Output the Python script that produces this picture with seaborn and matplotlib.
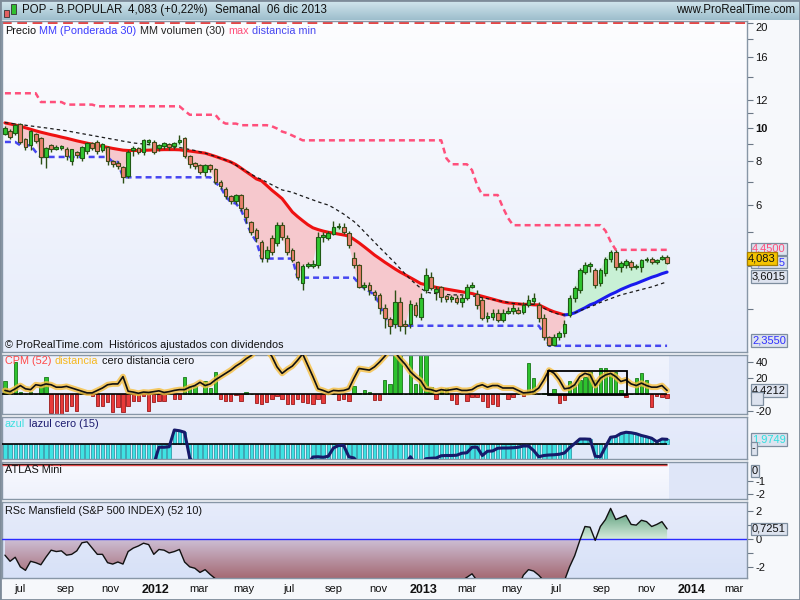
import numpy as np
import pandas as pd
import matplotlib
matplotlib.use('Agg')
import matplotlib.pyplot as plt
import seaborn as sns
from matplotlib.colors import LinearSegmentedColormap
from matplotlib.offsetbox import TextArea, HPacker, AnchoredOffsetbox
from matplotlib.patches import Rectangle
from matplotlib.path import Path
from matplotlib.ticker import NullLocator
from matplotlib.transforms import ScaledTranslation
import matplotlib.dates as mdates

# POP - B.POPULAR, velas semanales
apertura = [9.58, 9.77, 9.64, 10.23, 9.26, 8.9, 9.58, 9.33, 8.22, 8.9,
            8.67, 8.73, 8.67, 8.0, 8.5, 8.17, 8.55, 9.02, 9.08, 8.61,
            8.79, 8.0, 7.9, 7.7, 7.25, 8.61, 8.73, 8.5, 9.08, 9.08,
            8.73, 8.84, 8.96, 8.84, 9.08, 9.33, 8.28, 7.9, 7.8, 7.45,
            7.8, 7.6, 7.0, 6.65, 6.35, 6.15, 6.4, 5.83, 5.35, 5.07,
            4.69, 4.22, 4.81, 4.66, 5.24, 4.81, 4.45, 4.1, 3.58, 4.0,
            4.0, 4.02, 4.84, 4.81, 4.94, 5.17, 5.17, 4.97, 4.22, 4.02,
            3.48, 3.52, 3.36, 3.3, 3.03, 2.81, 2.73, 3.15, 2.73, 2.73,
            3.09, 2.85, 3.4, 3.71, 3.36, 3.48, 3.28, 3.21, 3.23, 3.15,
            3.23, 3.48, 3.33, 3.19, 2.83, 2.85, 2.93, 2.79, 2.93, 2.97,
            2.99, 2.95, 3.09, 3.17, 3.09, 2.83, 2.49, 2.37, 2.49, 2.56,
            2.89, 3.23, 3.4, 3.84, 4.0, 3.89, 3.56, 3.81, 4.19, 4.39,
            3.96, 4.02, 4.1, 3.96, 3.96, 4.16, 4.19, 4.1, 4.19, 4.24]
cierre = [9.97, 9.39, 10.17, 9.08, 8.79, 9.77, 9.14, 8.22, 8.73, 8.67,
          8.79, 8.84, 8.28, 8.67, 8.34, 8.79, 9.02, 8.73, 8.55, 8.96,
          8.0, 7.85, 7.75, 7.2, 8.5, 8.73, 8.5, 9.2, 9.2, 8.5,
          8.9, 9.02, 8.79, 9.02, 9.2, 8.28, 7.85, 7.75, 7.45, 7.8,
          7.6, 7.0, 6.78, 6.35, 6.15, 6.4, 5.87, 5.53, 5.0, 4.81,
          4.22, 4.45, 4.39, 5.24, 4.84, 4.39, 4.16, 3.71, 4.0, 4.06,
          4.06, 4.84, 4.9, 4.97, 5.17, 5.2, 5.0, 4.6, 4.02, 3.48,
          3.52, 3.4, 3.3, 3.03, 2.83, 2.69, 3.15, 2.69, 2.68, 3.11,
          2.89, 3.23, 3.76, 3.45, 3.43, 3.26, 3.21, 3.26, 3.15, 3.23,
          3.48, 3.52, 3.09, 2.83, 2.87, 2.93, 2.79, 2.93, 2.97, 3.03,
          2.93, 3.09, 3.19, 3.23, 2.83, 2.49, 2.36, 2.49, 2.56, 2.73,
          3.23, 3.45, 3.89, 4.02, 4.06, 3.52, 3.89, 4.19, 4.39, 3.96,
          4.08, 4.12, 3.96, 3.99, 4.16, 4.19, 4.1, 4.16, 4.24, 4.083]
alto = [10.1, 9.9, 10.3, 10.3, 9.35, 9.85, 9.65, 9.4, 8.8, 9.0,
        8.9, 8.9, 8.8, 8.7, 8.55, 8.85, 9.1, 9.1, 9.2, 9.05,
        8.85, 8.1, 8.0, 7.75, 8.6, 8.85, 8.8, 9.3, 9.3, 9.2,
        9.0, 9.1, 9.05, 9.1, 9.5, 9.4, 8.35, 7.95, 7.85, 7.85,
        7.85, 7.65, 7.05, 6.75, 6.4, 6.45, 6.45, 5.9, 5.4, 5.15,
        4.75, 4.55, 4.9, 5.35, 5.35, 4.9, 4.5, 4.12, 4.05, 4.1,
        4.15, 5.0, 5.0, 5.05, 5.4, 5.3, 5.3, 5.05, 4.4, 4.05,
        3.6, 3.6, 3.4, 3.35, 3.1, 2.85, 3.4, 3.25, 2.8, 3.2,
        3.15, 3.35, 3.95, 3.85, 3.5, 3.5, 3.3, 3.3, 3.3, 3.3,
        3.55, 3.6, 3.4, 3.25, 2.95, 3.0, 3.0, 3.0, 3.05, 3.1,
        3.05, 3.15, 3.3, 3.35, 3.15, 2.9, 2.52, 2.55, 2.6, 2.8,
        3.3, 3.5, 3.95, 4.1, 4.1, 3.95, 3.95, 4.25, 4.45, 4.45,
        4.12, 4.2, 4.15, 4.05, 4.2, 4.25, 4.25, 4.2, 4.3, 4.3]
bajo = [9.5, 9.3, 9.55, 8.95, 8.6, 8.6, 9.05, 7.85, 7.65, 8.5,
        8.6, 8.65, 8.1, 7.8, 8.2, 8.0, 8.4, 8.6, 8.4, 8.5,
        7.8, 7.7, 7.6, 6.95, 7.15, 8.3, 8.4, 8.35, 8.95, 8.4,
        8.55, 8.7, 8.6, 8.7, 8.95, 8.2, 7.65, 7.6, 7.35, 7.25,
        7.45, 6.9, 6.65, 6.25, 6.05, 6.05, 5.75, 5.3, 4.9, 4.7,
        4.1, 4.1, 4.3, 4.55, 4.75, 4.3, 4.1, 3.65, 3.4, 3.95,
        3.95, 3.95, 4.7, 4.75, 4.9, 5.1, 4.95, 4.5, 3.95, 3.45,
        3.4, 3.3, 3.2, 2.9, 2.65, 2.55, 2.65, 2.6, 2.55, 2.65,
        2.85, 2.8, 3.35, 3.4, 3.2, 3.15, 3.15, 3.15, 3.1, 3.05,
        3.2, 3.45, 3.0, 2.8, 2.75, 2.8, 2.75, 2.75, 2.9, 2.9,
        2.9, 2.9, 3.05, 3.1, 2.75, 2.45, 2.355, 2.355, 2.45, 2.5,
        2.85, 3.15, 3.35, 3.8, 3.85, 3.45, 3.5, 3.75, 4.1, 3.9,
        3.85, 3.95, 3.9, 3.93, 3.85, 4.1, 4.05, 4.05, 4.15, 4.05]

# MM ponderada 30 y MM volumen 30
mm_ponderada = [10.33, 10.26, 10.18, 10.1, 10.0, 9.9, 9.8, 9.71, 9.63, 9.55,
                9.48, 9.4, 9.33, 9.25, 9.17, 9.1, 9.03, 8.97, 8.9, 8.84,
                8.78, 8.72, 8.67, 8.62, 8.6, 8.6, 8.6, 8.61, 8.62, 8.63,
                8.64, 8.65, 8.65, 8.65, 8.64, 8.6, 8.57, 8.53, 8.49, 8.45,
                8.36, 8.27, 8.17, 8.07, 7.97, 7.83, 7.65, 7.47, 7.3, 7.12,
                7.03, 6.82, 6.61, 6.43, 6.25, 5.98, 5.72, 5.55, 5.4, 5.26,
                5.15, 5.09, 5.04, 5.0, 4.97, 4.94, 4.91, 4.88, 4.77, 4.66,
                4.54, 4.42, 4.3, 4.2, 4.1, 4.01, 3.92, 3.84, 3.77, 3.7,
                3.63, 3.56, 3.53, 3.5, 3.47, 3.45, 3.43, 3.41, 3.39, 3.37,
                3.35, 3.33, 3.3, 3.27, 3.24, 3.21, 3.18, 3.15, 3.13, 3.12,
                3.11, 3.1, 3.1, 3.09, 3.09, 3.04, 2.99, 2.95, 2.92, 2.89,
                2.9, 2.93, 2.98, 3.03, 3.09, 3.13, 3.19, 3.25, 3.31, 3.36,
                3.42, 3.47, 3.52, 3.56, 3.61, 3.66, 3.71, 3.75, 3.8, 3.84]
mm_volumen = [10.35, 10.3, 10.26, 10.21, 10.17, 10.12, 10.08, 10.03, 9.99, 9.94,
              9.89, 9.85, 9.8, 9.74, 9.68, 9.62, 9.56, 9.5, 9.45, 9.39,
              9.33, 9.27, 9.21, 9.15, 9.1, 9.04, 9.01, 8.98, 8.94, 8.91,
              8.88, 8.85, 8.82, 8.8, 8.77, 8.72, 8.66, 8.6, 8.52, 8.45,
              8.36, 8.27, 8.17, 8.07, 7.96, 7.8, 7.65, 7.5, 7.35, 7.2,
              7.1, 6.97, 6.85, 6.73, 6.62, 6.57, 6.52, 6.43, 6.35, 6.27,
              6.19, 6.12, 6.05, 5.99, 5.88, 5.76, 5.64, 5.5, 5.37, 5.2,
              5.02, 4.85, 4.68, 4.52, 4.37, 4.22, 4.08, 3.93, 3.79, 3.66,
              3.55, 3.45, 3.37, 3.34, 3.33, 3.32, 3.31, 3.3, 3.3, 3.3,
              3.29, 3.28, 3.26, 3.24, 3.22, 3.2, 3.18, 3.16, 3.14, 3.12,
              3.11, 3.1, 3.1, 3.1, 3.07, 3.02, 2.97, 2.93, 2.9, 2.89,
              2.9, 2.93, 2.97, 3.01, 3.05, 3.09, 3.14, 3.18, 3.22, 3.26,
              3.3, 3.33, 3.36, 3.39, 3.42, 3.45, 3.48, 3.52, 3.56, 3.6]

# max / min (distancia)
linea_max = ([12.57] * 7 + [11.86] * 5 + [11.66] * 6 + [11.53] * 17 + [11.2]
             + [10.9] * 6 + [10.46] + [10.28] * 3 + [10.17] * 6
             + [10.1, 9.95, 9.75, 9.65, 9.5, 9.35] + [9.2] * 28 + [8.17]
             + [7.85] * 4 + [7.55, 6.83] + [6.4] * 4 + [5.9, 5.5]
             + [5.24] * 18 + [5.05, 4.7] + [4.45] * 11)
linea_min = ([9.1] * 3 + [8.9] * 3 + [8.52] + [8.24] * 14 + [7.97] * 2
             + [7.2] * 18 + [6.95, 6.75, 6.35, 6.1, 6.05, 5.8, 5.35, 4.95, 4.7]
             + [4.2] * 7 + [3.7] * 12 + [3.55, 3.45, 3.38, 3.3, 3.1, 2.85]
             + [2.69] * 30 + [2.55] + [2.355] * 24)

# CPM (52)
cpm_barras = [17, 3, 40, 3, 0, 3, 0, 11, 22, -23, -24, -24, -20, -14, -20, 3, 0, -2, -14, -14,
              -9, -22, -15, -22, -14, -8, -8, -2, -20, -9, -8, -8, 0, -6, -5, 21, 10, 10, 0, 16,
              8, 28, -5, -8, -8, -1, -8, 3, 0, -10, -12, -9, -5, -2, -6, -12, -12, -5, -9, -11,
              -12, -5, -11, 0, 0, -7, -5, -8, 11, 2, 5, 3, -7, -7, 18, 13, 55,
              55, 0, 55, 13, 55, 55, 9, -6, 7, 8, -7, -12, 0, -8, -3, -3, -8, -15, -12, -14,
              0, -5, -3, 0, -2, 39, 20, 0, 2, 2, 7, -11, -7, 16, 12, 18, 22, 28, 18, 32,
              32, 26, 28, 5, -3, 0, 20, 27, 18, -16, -2, -3, -4]
cpm_distancia = [5, 3.5, 7, 11, 7, 6, 12, 11, 13, 12,
                 9, 9, 10, 8, 6, 4, 2, 2, 5, 8,
                 12, 13, 13, 22, 4, 3, 1.5, 3, 2.5, 3.5,
                 4.5, 2.5, 3.5, 5, 6, 6, 9, 11, 15, 11,
                 13, 18, 22, 26, 30, 35, 39, 44, 48, 55,
                 55, 55, 47, 34, 26, 31, 35, 42, 50, 36,
                 22, 7, 5, 2.5, 5, 4.5, 5, 7, 20, 32,
                 31, 30, 34, 40, 47, 55, 52, 44, 37, 28,
                 22, 17, 7, 6, 4, 6, 5, 6, 7, 5,
                 5, 6, 10, 12, 9, 11, 11, 8, 8, 8,
                 5, 2, 2.5, 3.5, 8, 18, 30, 26, 18, 7,
                 8, 12, 22, 26, 24, 11, 20, 24, 26, 22,
                 16, 18, 13, 11, 14, 11, 9, 9, 11, 5]

# azul / lazul (15)
lazul = ([-8] * 30 + [-1.2, -1.2, -1.0, 5.7, 5.4, 4.8, -5.5] + [-8] * 23
         + [-5.1, -5.0, -5.2, -4.8, -1.5, -0.5, -0.5, -5.0, -5.5] + [-8] * 10
         + [-5.0, -8, -8, -5.8, -5.6, -5.5, -4.6, -4.5, -4.5, -4.4,
            -3.6, -3.4, -1.2, -1.2, -4.5, -2.8, -2.7, -1.6, -1.5, -1.5,
            -1.4, -1.2, -0.7, -0.7, -2.5, -5.0, -4.5, -4.3, -4.2, -4.0,
            -3.5, -1.4, 0.3, 2.1, 2.1, 2.0, -4.8, -5.0, -1.0, 2.8,
            3.1, 4.3, 4.8, 4.6, 4.2, 3.5, 3.0, 2.4, 1.0, 2.1, 1.97])
azul_barras = ([-9] * 33 + [5.7, 5.4, 4.8] + [-9] * 75 + [0.3, 2.1, 2.1, 2.0]
               + [-9] * 3 + [2.8, 3.1, 4.3, 4.8, 4.6, 4.2, 3.5, 3.0, 2.4, 1.0, 2.1, 1.97])

# RSc Mansfield (S&P 500)
rsc_mansfield = ([-1.16, -1.6, -1.31, -2.0, -2.25, -1.6, -1.7, -1.85, -1.3, -0.8,
                  -0.9, -0.85, -1.16, -1.1, -0.85, -0.27, -0.2, -0.65, -1.1, -1.1,
                  -1.7, -1.8, -1.65, -1.8, -0.9, -0.65, -0.5, -0.3, -0.4, -1.1,
                  -0.75, -0.8, -1.0, -0.9, -0.75, -1.65, -2.0, -2.1, -2.4, -2.2,
                  -2.55, -2.85, -3.2] + [-3.5] * 46 + [-3.0, -2.75, -2.5, -3.0]
                 + [-3.5] * 8
                 + [-2.6, -2.2, -2.3, -2.6, -3.0, -3.3, -3.3, -3.2, -3.0, -2.0,
                    -1.2, -0.1, 0.9, 0.85, -0.1, 0.9, 1.4, 2.2, 1.4, 1.55,
                    1.7, 1.05, 1.0, 1.35, 1.25, 0.9, 1.05, 1.25, 0.73])

# caja dibujada sobre el CPM
caja_ini, caja_fin = 106, 121
caja_baja, caja_alta = -1, 29

sns.set_theme(style='white')
plt.rcParams['font.family'] = ['Liberation Sans', 'DejaVu Sans']
plt.rcParams['lines.scale_dashes'] = False

fechas = pd.date_range(end='2013-12-06', periods=len(cierre), freq='W-FRI')
o, c = np.array(apertura), np.array(cierre)
h, l = np.array(alto), np.array(bajo)
mm = np.array(mm_ponderada)
x_ini, x_fin = pd.Timestamp('2011-06-13'), pd.Timestamp('2014-03-25')

fig = plt.figure(figsize=(8, 6), dpi=100, facecolor='#f6f8fb')


def caja(x0, y0, x1, y1):
    return fig.add_axes([x0 / 800, 1 - y1 / 600, (x1 - x0) / 800, (y1 - y0) / 600])


def fondo(x0, y0, x1, y1, arriba, abajo):
    a = caja(x0, y0, x1, y1)
    cm = LinearSegmentedColormap.from_list('f', [abajo, arriba])
    a.imshow(np.linspace(0, 1, 64).reshape(-1, 1), cmap=cm, aspect='auto',
             origin='lower', extent=[0, 1, 0, 1])
    a.set_axis_off()
    return a


def panel(x0, y0, x1, y1, arriba, abajo):
    fondo(x0, y0, x1, y1, arriba, abajo)
    a = caja(x0, y0, x1, y1)
    a.set_facecolor('none')
    for s in a.spines.values():
        s.set_color('#8796a6')
        s.set_linewidth(1)
    a.set_xlim(x_ini, x_fin)
    a.yaxis.tick_right()
    a.tick_params(axis='y', which='both', direction='out', length=4, width=0.8,
                  color='#6b7886', labelsize=8, pad=2, labelcolor='#111111')
    a.tick_params(axis='x', length=0, labelbottom=False)
    return a


def leyenda(ax, partes, y=0.985):
    cajas = [TextArea(t, textprops=dict(color=col, size=7.8)) for t, col in partes]
    fila = HPacker(children=cajas, align='baseline', pad=0, sep=2.4)
    ab = AnchoredOffsetbox(loc='upper left', child=fila, pad=0, borderpad=0,
                           frameon=False, bbox_to_anchor=(0.004, y),
                           bbox_transform=ax.transAxes)
    ab.set_zorder(20)
    ax.add_artist(ab)


def etiqueta(ax, valor, texto, color, dy=0, dx=5, fc='#dde3ef', ec='#7e8e9f', z=20):
    ax.annotate(texto, xy=(1, valor), xycoords=ax.get_yaxis_transform(),
                xytext=(dx, dy), textcoords='offset pixels', ha='left', va='center',
                fontsize=8, color=color, annotation_clip=False, zorder=z,
                bbox=dict(boxstyle='square,pad=0.12', fc=fc, ec=ec, lw=0.9))


def degradado(ax, y, donde, y0, y1, c0, c1):
    col = ax.fill_between(fechas, y, 0, where=donde, interpolate=True, lw=0)
    camino = Path.make_compound_path(*col.get_paths())
    col.remove()
    cm = LinearSegmentedColormap.from_list('g', [c0, c1])
    xa, xb = ax.get_xlim()
    im = ax.imshow(np.linspace(0, 1, 128).reshape(-1, 1), cmap=cm, origin='lower',
                   aspect='auto', extent=[xa, xb, y0, y1], zorder=1)
    im.set_clip_path(camino, transform=ax.transData)
    ax.set_xlim(xa, xb)
    ax.set_ylim(y0, y1)


# ---- barra de titulo ----
fondo(0, 0, 800, 20, '#d4e7ef', '#9dbecc')
fig.text(22 / 800, 1 - 10 / 600, 'POP - B.POPULAR', fontsize=8.3, va='center', color='#111111')
fig.text(128 / 800, 1 - 10 / 600, '4,083 (+0,22%)', fontsize=8.3, va='center', color='#111111')
fig.text(215 / 800, 1 - 10 / 600, 'Semanal  06 dic 2013', fontsize=8.3, va='center', color='#111111')
fig.text(795 / 800, 1 - 10 / 600, 'www.ProRealTime.com', fontsize=8.3, va='center', ha='right', color='#111111')
for x0, y0, ww, hh, col in [(3.5, 10, 5, 7, '#e06060'), (11, 4, 5, 10, '#30c030')]:
    fig.patches.append(Rectangle((x0 / 800, 1 - (y0 + hh) / 600), ww / 800, hh / 600,
                                 transform=fig.transFigure, fc=col, ec='#333333', lw=0.6))

# ---- precio ----
ax = panel(2, 21, 747, 352, '#fdfdff', '#e6ecfa')
ax.set_yscale('log')
ax.fill_between(fechas, c, mm, where=c < mm, interpolate=True, color='#f6c8cd', lw=0, zorder=1)
ax.fill_between(fechas, c, mm, where=c > mm, interpolate=True, color='#c8f0d5', lw=0, zorder=1)
ax.axhline(20, color='#e01010', lw=1.1, linestyle=(0, (7, 4)), zorder=2)
sns.lineplot(x=fechas, y=linea_max, ax=ax, color='#ff4f7b', lw=1.8,
             linestyle=(0, (4.3, 2.9)), zorder=2)
sns.lineplot(x=fechas, y=linea_min, ax=ax, color='#4646f0', lw=1.8,
             linestyle=(0, (4.3, 2.9)), zorder=2)
arriba = c > mm
cruce = int(np.where(~arriba)[0].max()) + 1
sns.lineplot(x=fechas[:cruce], y=mm[:cruce], ax=ax, color='#ee1111', lw=2.2, zorder=3)
sns.lineplot(x=fechas[cruce - 1:], y=mm[cruce - 1:], ax=ax, color='#1a1aee', lw=2.2, zorder=3)
sns.lineplot(x=fechas, y=mm_volumen, ax=ax, color='#1a1a1a', lw=0.9,
             linestyle=(0, (2.5, 2.2)), zorder=4)
verde = c >= o
ax.vlines(fechas, l, h, color='#2b4f14', lw=1, zorder=5)
ax.bar(fechas[verde], (c - o)[verde], bottom=o[verde], width=5, color='#2fc52f',
       edgecolor='#1f5a14', lw=0.8, zorder=6)
ax.bar(fechas[~verde], (o - c)[~verde], bottom=c[~verde], width=5, color='#e8806c',
       edgecolor='#3d4a18', lw=0.8, zorder=6)
ax.set_xlim(x_ini, x_fin)
ax.set_ylim(2.26, 20.3)
marcas_y = [3, 4, 5, 6, 7, 8, 9, 10, 11, 12, 14, 16, 18, 20]
ax.set_yticks(marcas_y, [str(v) if v in (6, 8, 10, 12, 16, 20) else '' for v in marcas_y])
ax.yaxis.set_minor_locator(NullLocator())
for t in ax.get_yticklabels():
    if t.get_text() == '10':
        t.set_fontweight('bold')
    if t.get_text() == '20':
        t.set_transform(t.get_transform() + ScaledTranslation(0, -0.04, fig.dpi_scale_trans))
ax.set(xlabel='', ylabel='')
leyenda(ax, [('Precio', '#111111'), ('MM (Ponderada 30)', '#3a3aff'),
             ('MM volumen (30)', '#222222'), ('max', '#ff4f7b'),
             ('distancia min', '#4646f0')])
ax.text(0.004, 0.012, '© ProRealTime.com  Históricos ajustados con dividendos',
        transform=ax.transAxes, fontsize=7.8, color='#111111', zorder=20)
etiqueta(ax, 4.45, '4,4500', '#ff4f7b', dy=1)
etiqueta(ax, mm[-1], '3,8025', '#3030ff', dy=10, z=20)
etiqueta(ax, c[-1], '4,083', '#111111', dy=4, dx=1, fc='#f5c400', ec='#a88000', z=22)
etiqueta(ax, mm_volumen[-1], '3,6015', '#111111', dy=5)
etiqueta(ax, 2.355, '2,3550', '#3030ff', dy=5)

# ---- CPM (52) ----
ax2 = panel(2, 355, 747, 414, '#f0f3fd', '#e9eefb')
ax2.axvspan(fechas[-1] + pd.Timedelta(days=3), x_fin, color='#e0e7f8', lw=0, zorder=0)
cpm = np.array(cpm_barras)
pos = cpm >= 0
ax2.bar(fechas, cpm, width=4.6, color=np.where(pos, '#2ec22e', '#e83a3a'),
        edgecolor=np.where(pos, '#187818', '#9a1a1a'), lw=0.6, zorder=2)
ax2.hlines(0, x_ini, fechas[-1], color='black', lw=1.2, zorder=3)
sns.lineplot(x=fechas, y=cpm_distancia, ax=ax2, color='#f7c040', lw=4.2, alpha=0.8, zorder=4)
sns.lineplot(x=fechas, y=cpm_distancia, ax=ax2, color='#111111', lw=1.2, zorder=5)
x0b = mdates.date2num(fechas[caja_ini]) - 2
x1b = mdates.date2num(fechas[caja_fin]) + 2
ax2.add_patch(Rectangle((x0b, caja_baja), x1b - x0b, caja_alta - caja_baja,
                        fill=False, ec='black', lw=1.3, zorder=6))
ax2.set_xlim(x_ini, x_fin)
ax2.set_ylim(-24, 48.6)
ax2.set_yticks([40, 20, -20], ['40', '20', '-20'])
ax2.set(xlabel='', ylabel='')
leyenda(ax2, [('CPM (52)', '#ff4848'), ('distancia', '#f5b820'),
              ('cero distancia cero', '#111111')])
etiqueta(ax2, 5, '4,4212', '#111111')
etiqueta(ax2, -5, '   ', '#111111')

# ---- azul ----
ax3 = panel(2, 417, 747, 459, '#e6ebfb', '#e1e8f9')
ax3.bar(fechas, azul_barras, width=4.6, color='#3fe3e3', edgecolor='#1e8e9e', lw=0.5, zorder=2)
ax3.hlines(0, x_ini, fechas[-1], color='black', lw=1.2, zorder=3)
sns.lineplot(x=fechas, y=lazul, ax=ax3, color='#171a6a', lw=2.2, zorder=4)
ax3.set_xlim(x_ini, x_fin)
ax3.set_ylim(-5.9, 10.9)
ax3.set_yticks([])
ax3.set(xlabel='', ylabel='')
leyenda(ax3, [('azul', '#3fe0e0'), ('lazul cero (15)', '#1a1a6e')], y=0.96)
etiqueta(ax3, lazul[-1], '1,9749', '#30e0e0')
etiqueta(ax3, -1.6, '-', '#111111')

# ---- ATLAS Mini ----
ax4 = panel(2, 462, 747, 499, '#f9faff', '#eef1fc')
ax4.axvspan(fechas[-1] + pd.Timedelta(days=3), x_fin, color='#dfe6f8', lw=0, zorder=0)
ax4.hlines(0.31, x_ini, fechas[-1], color='#111111', lw=1, zorder=3)
ax4.hlines(0.2, x_ini, fechas[-1], color='#e04848', lw=1, zorder=3)
ax4.set_xlim(x_ini, x_fin)
ax4.set_ylim(-2.38, 0.46)
ax4.set_yticks([-1, -2], ['-1', '-2'])
leyenda(ax4, [('ATLAS Mini', '#111111')], y=0.93)
etiqueta(ax4, 0, '0', '#111111', dy=-3)

# ---- RSc Mansfield ----
ax5 = panel(2, 502, 747, 578, '#e7ecfb', '#d7e1f7')
ax5.set_ylim(-2.8, 2.66)
rsc = np.array(rsc_mansfield)
degradado(ax5, rsc, rsc < 0, -2.8, 0, '#a56a74', '#cdbfd5')
degradado(ax5, rsc, rsc > 0, 0, 2.66, '#d6ecdd', '#33845a')
ax5.axhline(0, color='#2a2aff', lw=1, zorder=3)
sns.lineplot(x=fechas, y=rsc_mansfield, ax=ax5, color='#111111', lw=1, zorder=4)
ax5.set_xlim(x_ini, x_fin)
ax5.set_ylim(-2.8, 2.66)
ax5.set_yticks([2, 1, 0, -1, -2], ['2', '', '0', '', '-2'])
ax5.set(xlabel='', ylabel='')
leyenda(ax5, [('RSc Mansfield (S&P 500 INDEX) (52 10)', '#111111')], y=0.95)
etiqueta(ax5, rsc[-1], '0,7251', '#111111')

# eje de fechas
marcas = pd.date_range('2011-07-01', '2014-03-01', freq='2MS')
nombres_mes = {3: 'mar', 5: 'may', 7: 'jul', 9: 'sep', 11: 'nov'}
ax5.set_xticks(marcas, [str(f.year) if f.month == 1 else nombres_mes[f.month] for f in marcas])
ax5.tick_params(axis='x', length=0, labelbottom=True, labelsize=8, pad=4, labelcolor='#111111')
desplaza = ScaledTranslation(0.05, 0, fig.dpi_scale_trans)
for t in ax5.get_xticklabels():
    t.set_transform(t.get_transform() + desplaza)
    if t.get_text().isdigit():
        t.set_fontweight('bold')
        t.set_fontsize(9)

fig.patches.append(Rectangle((0, 0), 1, 1, transform=fig.transFigure, fill=False,
                             ec='#7d8b99', lw=2))
fig.savefig('out.png', dpi=100)
